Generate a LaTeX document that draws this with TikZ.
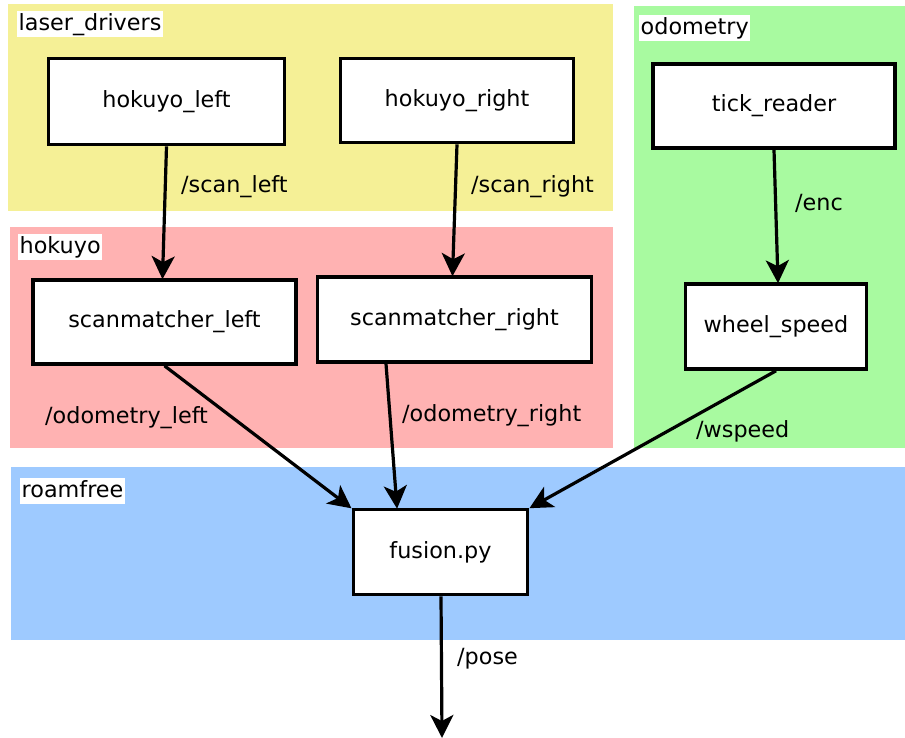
\documentclass[tikz,border=0pt]{standalone}
\usepackage{fontspec}
\setmainfont{DejaVu Sans}
\usetikzlibrary{arrows.meta,calc}

\definecolor{laserbg}{RGB}{245,240,150}
\definecolor{hokuyobg}{RGB}{255,178,178}
\definecolor{odombg}{RGB}{168,250,160}
\definecolor{roambg}{RGB}{158,202,255}

\tikzset{
  proc/.style={draw=black, line width=3.6pt, fill=white, font=\fontsize{22.3}{26}\selectfont,
    inner sep=0pt, minimum width=#1},
  grouplabel/.style={fill=white, anchor=north west, inner sep=1.5pt,
    font=\fontsize{22.3}{26}\selectfont, text height=18pt, text depth=5pt},
  topic/.style={anchor=west, inner sep=0pt, font=\fontsize{22.3}{26}\selectfont},
  flow/.style={line width=3.2pt, -{Stealth[length=23pt,width=23pt,inset=6pt]}, shorten >=-1pt},
}

\begin{document}
\begin{tikzpicture}[x=1pt,y=-1pt]
  % canvas
  \fill[white] (0,0) rectangle (905,737);
  \useasboundingbox (0,0) rectangle (905,737);

  % cluster backgrounds
  \fill[laserbg]  (8,4)    rectangle (613,211);
  \fill[hokuyobg] (10,227) rectangle (613,448);
  \fill[odombg]   (634,6)  rectangle (905,448);
  \fill[roambg]   (11,467) rectangle (905,640);

  % cluster titles
  \node[grouplabel] (gl1) at (17,11)  {laser\_drivers};
  \node[grouplabel] (gl2) at (18,234) {hokuyo};
  \node[grouplabel] (gl3) at (639,15) {odometry};
  \node[grouplabel] (gl4) at (20,478) {roamfree};

  % processes
  \node[proc=236pt, minimum height=86pt] (hl)  at (166.5,101.5) {hokuyo\_left};
  \node[proc=233pt, minimum height=84pt] (hr)  at (457,100.5)   {hokuyo\_right};
  \node[proc=242pt, minimum height=84pt] (tr)  at (774,106)     {tick\_reader};
  \node[proc=263pt, minimum height=84pt] (sml) at (164.5,322)   {scanmatcher\_left};
  \node[proc=274pt, minimum height=85pt] (smr) at (454.5,319.5) {scanmatcher\_right};
  \node[proc=181pt, minimum height=85pt] (ws)  at (776,326.5)   {wheel\_speed};
  \node[proc=174pt, minimum height=85pt] (fu)  at (440.5,552)   {fusion.py};
  \coordinate (out) at (442,737);

  % topics
  \draw[flow] (hl.south) -- ([xshift=-2pt]sml.north);
  \draw[flow] (hr.south) -- ([xshift=-2pt]smr.north);
  \draw[flow] (tr.south) -- ([xshift=2pt]ws.north);
  \draw[flow] (sml.south) -- ([xshift=-1pt]fu.north west);
  \draw[flow] ([xshift=-68.5pt]smr.south) -- ([xshift=-43.5pt]fu.north);
  \draw[flow] (ws.south) -- ([xshift=1pt]fu.north east);
  \draw[flow] ([xshift=0.5pt]fu.south) -- (out);

  % topic names
  \node[topic] (t1) at (181,187) {/scan\_left};
  \node[topic] (t2) at (471,187) {/scan\_right};
  \node[topic] (t3) at (795,203) {/enc};
  \node[topic] (t4) at (45,418)  {/odometry\_left};
  \node[topic] (t5) at (402,416) {/odometry\_right};
  \node[topic] (t6) at (696,431) {/wspeed};
  \node[topic] (t7) at (457,659) {/pose};
\end{tikzpicture}
\end{document}
